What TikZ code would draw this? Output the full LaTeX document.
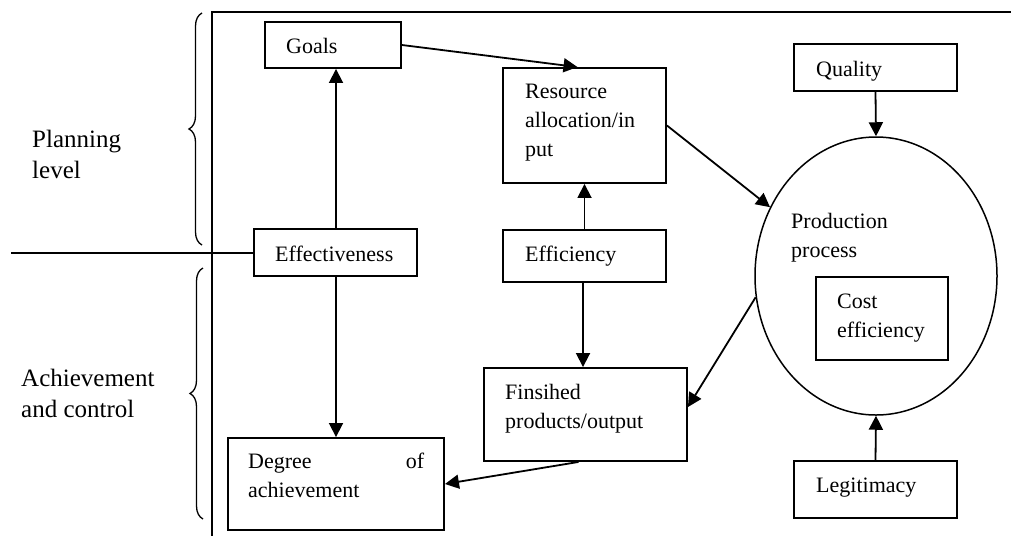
\documentclass[tikz,border=0pt]{standalone}
\usepackage{fontspec}
\setmainfont{Liberation Serif}
\usetikzlibrary{shapes.geometric,arrows.meta,decorations.pathreplacing,calc}
\begin{document}
\begin{tikzpicture}[x=1pt,y=-1pt,
  box/.style={draw, line width=1.9pt, inner sep=0pt},
  txt/.style={inner sep=0pt, anchor=base west, align=left, font=\fontsize{22}{29}\selectfont},
  side/.style={inner sep=0pt, anchor=base west, align=left, font=\fontsize{25}{31}\selectfont},
  arr/.style={line width=1.8pt, -{Triangle[length=14pt,width=14pt]}},
  frame/.style={line width=2pt},
  bracestyle/.style={line width=1.3pt, decorate, decoration={brace, amplitude=13pt}}]
\useasboundingbox (0,0) rectangle (1011,536);
% frame
\coordinate (ftr) at (1011,12);
\coordinate (ftl) at (211.7,12);
\coordinate (fbl) at (211.7,536);
\draw[frame] (ftr) -- (ftl) -- (fbl);
% boxes
\node[box, minimum width=136, minimum height=46] (goals) at (333,45) {};
\node[box, minimum width=163, minimum height=115] (res) at (584.5,125.5) {};
\node[box, minimum width=163, minimum height=47] (qual) at (875.5,67.5) {};
\node[box, minimum width=163, minimum height=47] (eff) at (335.5,252.5) {};
\node[box, minimum width=163, minimum height=52] (effi) at (584.5,256) {};
\node[box, minimum width=203, minimum height=93] (fin) at (585.5,414.5) {};
\node[box, minimum width=216, minimum height=92] (deg) at (336,484) {};
\node[draw, line width=1.5pt, ellipse, inner sep=0pt, minimum width=242, minimum height=278] (pp) at (876,276) {};
\node[box, minimum width=132, minimum height=83] (cost) at (882,318.5) {};
\node[box, minimum width=163, minimum height=57] (leg) at (875.5,489.5) {};
% texts (anchored at the baseline of the last line)
\node[txt] (tgoals) at (286,53) {Goals};
\node[txt] (tres) at (525,156) {Resource\\allocation/in\\put};
\node[txt] (tqual) at (816,76) {Quality};
\node[txt] (teff) at (275,261) {Effectiveness};
\node[txt] (teffi) at (525,261) {Efficiency};
\node[txt] (tfin) at (505,428) {Finsihed\\products/output};
\node[txt, text width=176] (tdeg) at (248,468) {Degree\hfill of\\achievement};
\node[txt] (tpp) at (791,257) {Production\\process};
\node[txt] (tcost) at (837,337) {Cost\\efficiency};
\node[txt] (tleg) at (816,492) {Legitimacy};
\node[side] (tplan) at (32,178) {Planning\\level};
\node[side] (tach) at (21,417) {Achievement\\and control};
% divider
\coordinate (hl) at (11,252.5);
\draw[frame] (hl) -- (eff.west);
% braces
\coordinate (b1a) at (202,245);
\coordinate (b1b) at (202,13);
\coordinate (b2a) at (203,519);
\coordinate (b2b) at (203,268);
\draw[bracestyle] (b1a) -- (b1b);
\draw[bracestyle] (b2a) -- (b2b);
% arrows
\draw[arr] (eff.north -| 336,0) -- (goals.south -| 336,0);
\draw[arr] (eff.south -| 336,0) -- (deg.north -| 336,0);
\draw[arr] (goals.east) -- ($(res.north)+(-7,0)$);
\draw[arr] (effi.north) -- (res.south);
\draw[arr] ($(effi.south)+(-1.5,0)$) -- ($(fin.north)+(-2.5,0)$);
\draw[arr] (res.east) -- (pp.147);
\draw[arr] (pp.190) -- ($(fin.east)+(0,-7.5)$);
\draw[arr] ($(fin.south)+(-7,0)$) -- (deg.east);
\draw[arr] (qual.south) -- (pp.north);
\draw[arr] (leg.north) -- (pp.south);
\end{tikzpicture}
\end{document}
